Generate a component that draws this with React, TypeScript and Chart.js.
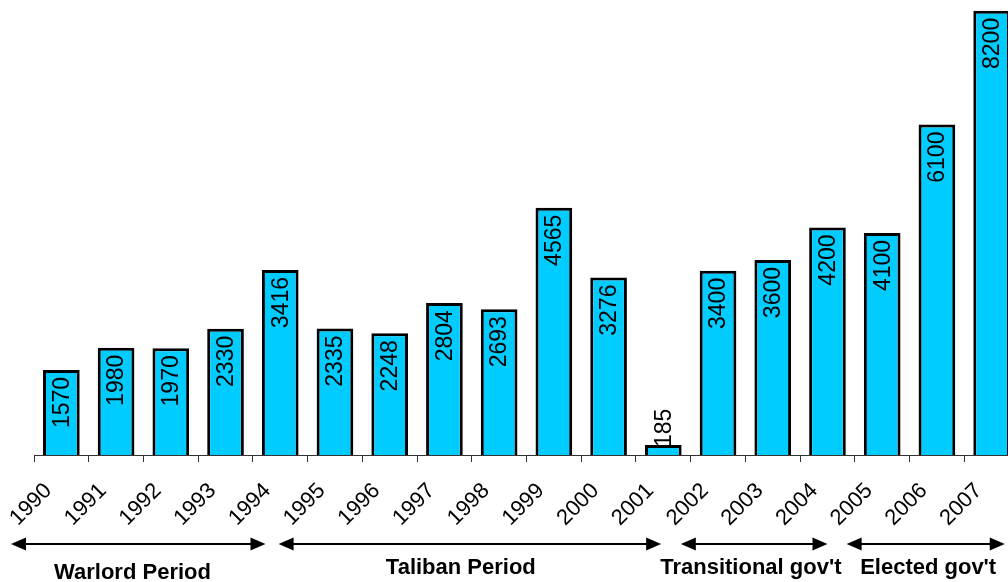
import React, { useEffect, useRef } from "react";
import { Chart, registerables } from "chart.js";

Chart.register(...registerables);

const years = ["1990", "1991", "1992", "1993", "1994", "1995", "1996", "1997", "1998", "1999", "2000", "2001", "2002", "2003", "2004", "2005", "2006", "2007"];
const values = [1570, 1980, 1970, 2330, 3416, 2335, 2248, 2804, 2693, 4565, 3276, 185, 3400, 3600, 4200, 4100, 6100, 8200];

// Period annotations, in category-axis units (index values)
const periodLabels = ["Warlord Period", "Taliban Period", "Transitional gov't", "Elected gov't"];
const periodStarts = [-0.92, 3.97, 11.32, 14.35];
const periodEnds = [3.73, 10.96, 14.0, 17.24];
const periodCenters = [1.3, 7.3, 12.6, 15.84];
const periodLabelRows = [573, 568, 568, 568];

const FONT = "'Liberation Sans', Arial, Helvetica, sans-serif";

const valueLabelPlugin = {
  id: "valueLabels",
  afterDatasetsDraw(chart: any) {
    const ctx = chart.ctx;
    const meta = chart.getDatasetMeta(0);
    ctx.save();
    ctx.font = `23px ${FONT}`;
    ctx.fillStyle = "#000";
    ctx.textBaseline = "middle";
    meta.data.forEach((bar: any, i: number) => {
      const txt = String(values[i]);
      const w = ctx.measureText(txt).width;
      let bottom = bar.y + 7 + w;
      if (bottom > bar.base - 2) bottom = bar.y + 2;
      ctx.save();
      ctx.translate(bar.x + 1, bottom);
      ctx.rotate(-Math.PI / 2);
      ctx.textAlign = "left";
      ctx.fillText(txt, 0, 0);
      ctx.restore();
    });
    ctx.restore();
  },
};

const periodPlugin = {
  id: "periods",
  afterDraw(chart: any) {
    const ctx = chart.ctx;
    const xs = chart.scales.x;
    ctx.save();
    ctx.strokeStyle = "#000";
    ctx.fillStyle = "#000";
    ctx.lineWidth = 2;
    const y = 544;
    const headL = 15;
    const headH = 6.5;
    periodLabels.forEach((label, i) => {
      const x1 = xs.getPixelForValue(periodStarts[i]);
      const x2 = xs.getPixelForValue(periodEnds[i]);
      ctx.beginPath();
      ctx.moveTo(x1 + headL - 1, y);
      ctx.lineTo(x2 - headL + 1, y);
      ctx.stroke();
      ctx.beginPath();
      ctx.moveTo(x1, y);
      ctx.lineTo(x1 + headL, y - headH);
      ctx.lineTo(x1 + headL, y + headH);
      ctx.closePath();
      ctx.fill();
      ctx.beginPath();
      ctx.moveTo(x2, y);
      ctx.lineTo(x2 - headL, y - headH);
      ctx.lineTo(x2 - headL, y + headH);
      ctx.closePath();
      ctx.fill();
      ctx.font = `bold 22px ${FONT}`;
      ctx.textAlign = "center";
      ctx.textBaseline = "middle";
      ctx.fillText(label, xs.getPixelForValue(periodCenters[i]), periodLabelRows[i]);
    });
    ctx.restore();
  },
};

export default function App() {
  const ref = useRef<HTMLCanvasElement>(null);
  useEffect(() => {
    if (!ref.current) return;
    const chart = new Chart(ref.current, {
      type: "bar",
      data: {
        labels: years,
        datasets: [
          {
            data: values,
            backgroundColor: "#00CCFF",
            borderColor: "#000",
            borderWidth: 3,
            barPercentage: 0.67,
            categoryPercentage: 1,
          },
        ],
      },
      options: {
        responsive: false,
        animation: false,
        devicePixelRatio: 1,
        layout: { padding: { left: 34, right: 0, top: 0, bottom: 0 } },
        plugins: { legend: { display: false }, tooltip: { enabled: false } },
        scales: {
          x: {
            afterFit(scale: any) {
              scale.height = 127;
              scale.paddingLeft = 0;
              scale.paddingRight = 0;
            },
            grid: {
              offset: true,
              drawOnChartArea: false,
              drawTicks: true,
              tickLength: 7,
              color: "#333",
            },
            border: { display: true, color: "#333", width: 1 },
            ticks: {
              color: "#000",
              font: { size: 22, family: FONT },
              minRotation: 45,
              maxRotation: 45,
              autoSkip: false,
              padding: 16,
              labelOffset: -13,
            },
          },
          y: {
            display: false,
            min: 0,
            max: 8400,
          },
        },
      },
      plugins: [valueLabelPlugin, periodPlugin],
    });
    return () => chart.destroy();
  }, []);
  return (
    <div style={{ position: "fixed", left: 0, top: 0, width: 1008, height: 582, overflow: "hidden", background: "#fff" }}>
      <canvas ref={ref} width={1019} height={582} style={{ display: "block" }} />
    </div>
  );
}
